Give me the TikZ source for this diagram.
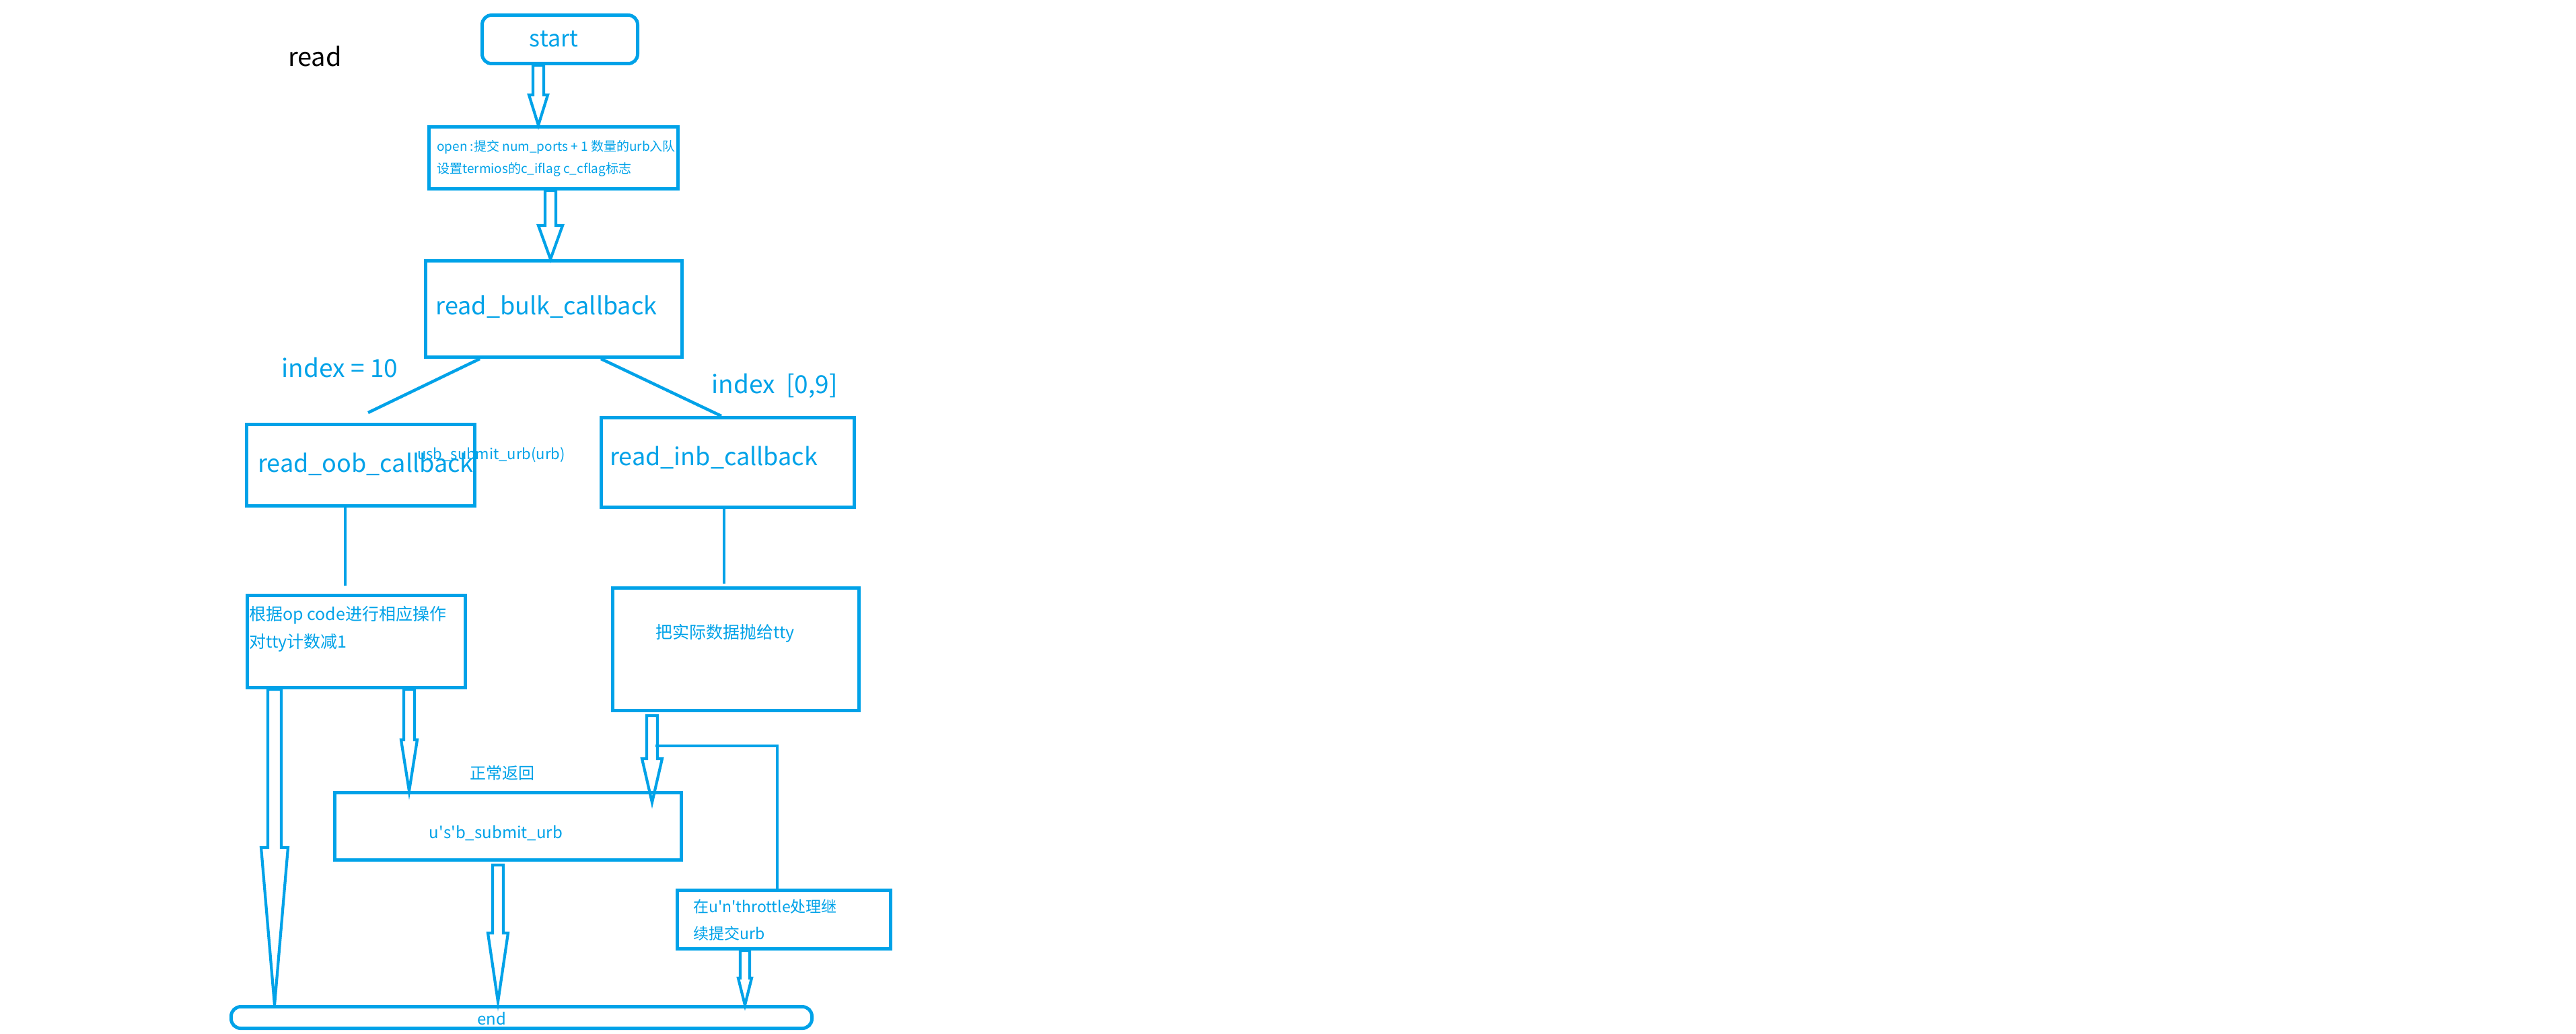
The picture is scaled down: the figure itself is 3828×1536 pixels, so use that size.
\documentclass[tikz,border=0pt]{standalone}
\usepackage{fontspec}
\setmainfont{Noto Sans CJK SC}
\usetikzlibrary{calc}
\definecolor{pb}{RGB}{0,162,232}
\newcommand\harrow[5]{%
\draw[hollow] let \p1=#1, \p2=#2 in (\x1-#3pt,\y1) -- (\x1-#3pt,\y2+#5pt) -- (\x1-#4pt,\y2+#5pt) -- (\x1,\y2) -- (\x1+#4pt,\y2+#5pt) -- (\x1+#3pt,\y2+#5pt) -- (\x1+#3pt,\y1) -- cycle;}
\newcommand\fs[1]{\fontsize{#1}{#1}\selectfont}
\begin{document}
\begin{tikzpicture}[x=1pt,y=-1pt,
 box/.style={draw=pb, line width=5pt, rectangle, inner sep=0pt},
 txt/.style={text=pb, inner sep=0pt},
 conn/.style={draw=pb, line width=4.5pt},
 hollow/.style={draw=pb, line width=4.2pt, line join=miter}]
\useasboundingbox (0,0) rectangle (3828,1536);
% title
\node[inner sep=0pt, font=\fs{38}] (title) at (468,84) {read};
% boxes
\node[box, rounded corners=14pt, minimum width=231pt, minimum height=72pt] (start) at (832,58.5) {};
\node[box, minimum width=370pt, minimum height=92pt] (open) at (822.5,234.5) {};
\node[box, minimum width=381pt, minimum height=143pt] (bulk) at (823,459) {};
\node[box, minimum width=339pt, minimum height=121pt] (oob) at (536,691) {};
\node[box, minimum width=376pt, minimum height=133pt] (inb) at (1081.5,687) {};
\node[box, minimum width=324pt, minimum height=137pt] (gen) at (529.5,953) {};
\node[box, minimum width=366pt, minimum height=182pt] (ba) at (1093.5,964.5) {};
\node[box, minimum width=515pt, minimum height=100pt] (usb) at (755,1227.5) {};
\node[box, minimum width=317pt, minimum height=87pt] (thr) at (1165,1366) {};
\node[box, rounded corners=14pt, minimum width=863pt, minimum height=32pt] (endn) at (775,1511.5) {};
% texts
\node[txt, font=\fs{34}] (starttxt) at (823,58) {start};
\node[txt, anchor=west, align=left, font=\fontsize{19}{33}\selectfont] (opentxt) at (649,235) {open :提交 num\_ports + 1 数量的urb入队\\设置termios的c\_iflag c\_cflag标志};
\node[txt, font=\fs{36}] (bulktxt) at (812,456) {read\_bulk\_callback};
\node[txt, font=\fs{37}] (idx10) at (505,546) {index = 10};
\node[txt, font=\fs{37}] (idx09) at (1151,573) {index\ \ [0,9]};
\node[txt, anchor=west, font=\fs{36}] (oobtxt) at (383,690) {read\_oob\_callback};
\node[txt, font=\fs{22}] (usblbl) at (730,676) {usb\_submit\_urb(urb)};
\node[txt, anchor=west, font=\fs{36}] (inbtxt) at (906,680) {read\_inb\_callback};
\node[txt, anchor=north west, align=left, font=\fontsize{25}{41}\selectfont] (gentxt) at (370,900) {根据op code进行相应操作\\对tty计数减1};
\node[txt, anchor=west, font=\fs{25}] (batxt) at (974,941) {把实际数据抛给tty};
\node[txt, font=\fs{24}] (ret) at (746,1148) {正常返回};
\node[txt, font=\fs{24}] (usbtxt) at (737,1238) {u\textquotesingle s\textquotesingle b\_submit\_urb};
\node[txt, anchor=west, align=left, font=\fontsize{23}{40}\selectfont] (thrtxt) at (1030,1367) {在u\textquotesingle n\textquotesingle throttle处理继\\续提交urb};
\node[txt, font=\fs{24}] (endtxt) at (731,1513) {end};
% free ends
\coordinate (oobjoin) at (547,613);
\coordinate (genjoin) at (513,870);
\coordinate (bajoin) at (1076,867);
\coordinate (batip) at ($(969,0 |- usb.north)+(0,17)$);
\coordinate (thrjoin) at (974,1108);
% connectors
\draw[conn] (713,0 |- bulk.south) -- (oobjoin);
\draw[conn] (893,0 |- bulk.south) -- (1072,0 |- inb.north);
\draw[conn] (513,0 |- oob.south) -- (genjoin);
\draw[conn] (1076,0 |- inb.south) -- (bajoin);
\draw[conn, line width=4pt] (thrjoin) -- (1155,1108) -- (1155,0 |- thr.north);
% hollow arrows
\harrow{(800,0 |- start.south)}{(800,0 |- open.north)}{8}{14}{45}
\harrow{(818,0 |- open.south)}{(818,0 |- bulk.north)}{8}{18}{50}
\harrow{(408,0 |- gen.south)}{(408,0 |- endn.north)}{10}{20}{234}
\harrow{(608,0 |- gen.south)}{(608,0 |- usb.north)}{8}{12}{76}
\harrow{($(969,0 |- ba.south)+(0,5)$)}{(batip)}{8}{15}{65}
\harrow{($(740,0 |- usb.south)+(0,5)$)}{($(740,0 |- endn.north)+(0,-5)$)}{8}{15}{102}
\harrow{(1107,0 |- thr.south)}{(1107,0 |- endn.north)}{7}{10}{40}
\end{tikzpicture}
\end{document}
